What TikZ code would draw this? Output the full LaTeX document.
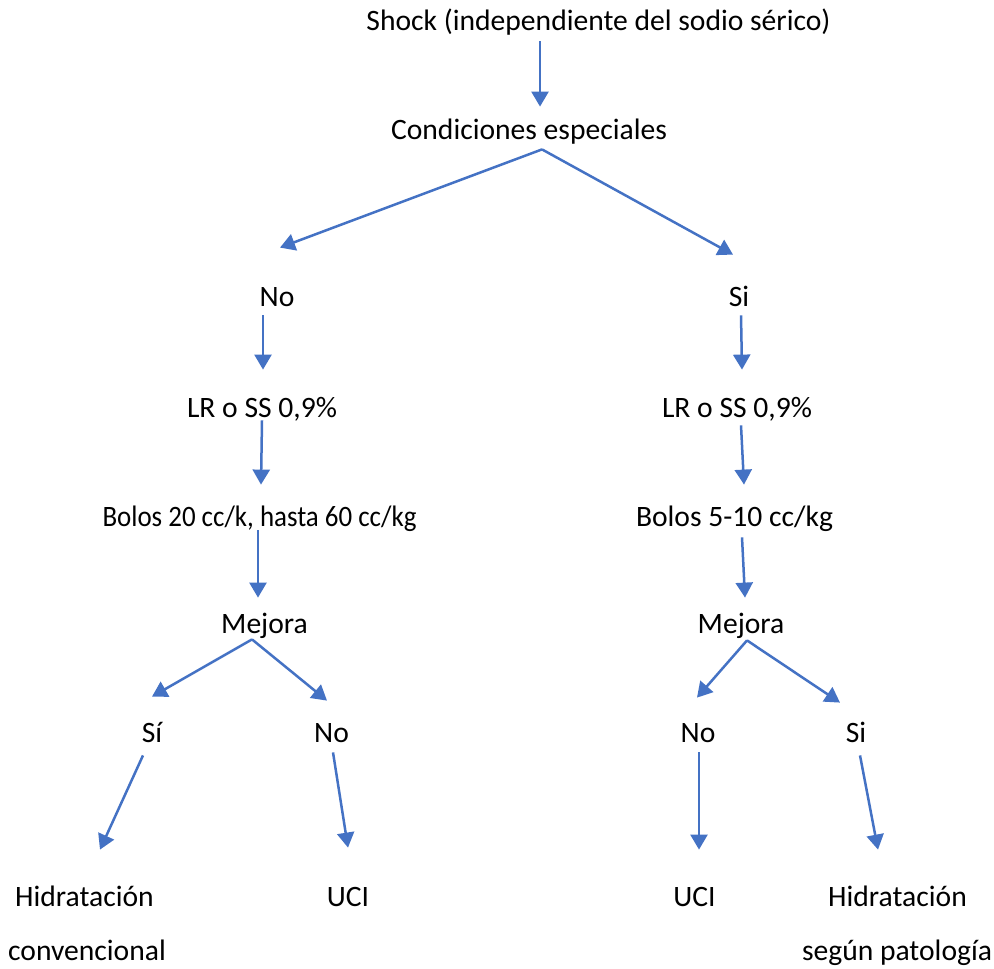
\documentclass[tikz,border=0pt]{standalone}
\usepackage{fontspec}
\setmainfont{Carlito}
\usetikzlibrary{arrows.meta,calc}
\definecolor{azul}{HTML}{4472C4}
\tikzset{
  texto/.style={inner sep=0pt, text height=10pt, text depth=3pt, anchor=base, font=\fontsize{14.8}{18}\selectfont},
  flecha/.style={azul, line width=1.25pt, -{Triangle[length=7.5pt,width=8.5pt]}}
}
\begin{document}
\begin{tikzpicture}[x=0.5pt,y=-0.5pt]

        \useasboundingbox (0,0) rectangle (994,968);

        % textos
        \node[texto] (shock) at (598.5,31) {Shock (independiente del sodio sérico)};
        \node[texto] (cond) at (529,140) {Condiciones especiales};

        \node[texto] (no1) at (277,306) {No};
        \node[texto] (si1) at (739,306) {Si};

        \node[texto] (lr1) at (262,417) {LR o SS 0,9\%};
        \node[texto] (lr2) at (737,417) {LR o SS 0,9\%};

        \node[texto] (bolos1) at (259.5,526) {\scalebox{0.91}[1]{Bolos 20 cc/k, hasta 60 cc/kg}};
        \node[texto] (bolos2) at (734.5,526) {Bolos 5-10 cc/kg};

        \node[texto] (mej1) at (264.5,633) {Mejora};
        \node[texto] (mej2) at (741,633) {Mejora};

        \node[texto] (si3) at (152,742) {Sí};
        \node[texto] (no3) at (331.5,742) {No};
        \node[texto] (no4) at (698,742) {No};
        \node[texto] (si4) at (856,742) {Si};

        \node[texto] (hid1) at (84.5,906) {Hidratación};
        \node[texto] (conv) at (87,960) {convencional};
        \node[texto] (uci1) at (348,906) {UCI};
        \node[texto] (uci2) at (694.5,906) {UCI};
        \node[texto] (hid2) at (897.5,906) {Hidratación};
        \node[texto] (pat) at (897,960) {según patología};

        % flechas
        \draw[flecha] ($(shock.south)+(-58.5,4)$) -- ($(cond.north)+(11,-13)$);

        \draw[flecha] ($(cond.south)+(13,3)$) -- ($(no1.north)+(3,-38)$);
        \draw[flecha] ($(cond.south)+(13,3)$) -- ($(si1.north)+(-6,-31)$);

        \draw[flecha] ($(no1.south)+(-14,3)$) -- ($(lr1.north)+(1,-27)$);
        \draw[flecha] ($(si1.south)+(2,3)$) -- ($(lr2.north)+(5,-27)$);

        \draw[flecha] ($(lr1.south)+(0,-3)$) -- ($(bolos1.north)+(1.5,-21)$);
        \draw[flecha] ($(lr2.south)+(4,2)$) -- ($(bolos2.north)+(9.5,-21)$);

        \draw[flecha] ($(bolos1.south)+(-1.5,-2)$) -- ($(mej1.north)+(-6.5,-15)$);
        \draw[flecha] ($(bolos2.south)+(7.5,5)$) -- ($(mej2.north)+(4,-15)$);

        \draw[flecha] ($(mej1.south)+(-12.5,0)$) -- ($(si3.north)+(0,-25)$);
        \draw[flecha] ($(mej1.south)+(-12.5,0)$) -- ($(no3.north)+(-4.5,-21)$);
        \draw[flecha] ($(mej2.south)+(6,1)$) -- ($(no4.north)+(-1,-24)$);
        \draw[flecha] ($(mej2.south)+(6,1)$) -- ($(si4.north)+(-16,-19)$);

        \draw[flecha] ($(si3.south)+(-9,7)$) -- ($(hid1.north)+(15.5,-36)$);
        \draw[flecha] ($(no3.south)+(1.5,4)$) -- ($(uci1.north)+(0,-38)$);
        \draw[flecha] ($(no4.south)+(1,4)$) -- ($(uci2.north)+(4.5,-36)$);
        \draw[flecha] ($(si4.south)+(4,7)$) -- ($(hid2.north)+(-19.5,-36)$);

      \end{tikzpicture}
\end{document}
